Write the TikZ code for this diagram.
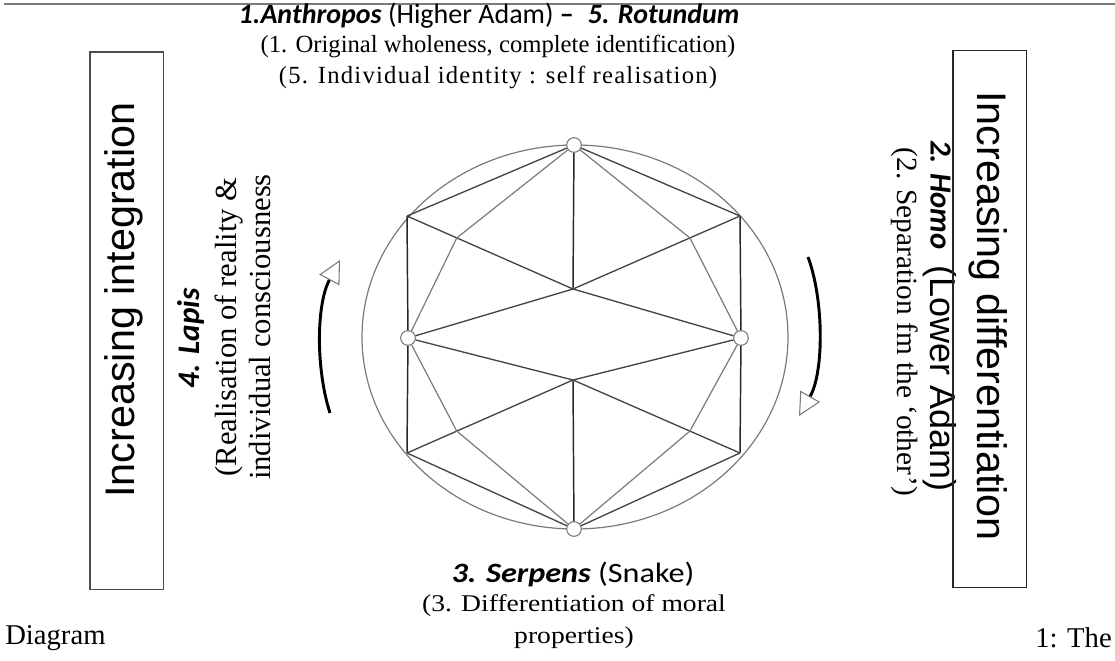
\documentclass[tikz,border=0pt]{standalone}
\usepackage{fontspec}
\setmainfont{Liberation Serif}
\setsansfont{Liberation Sans}
\newfontfamily\calibri{Carlito}
\newfontfamily\calibriwide[FakeStretch=1.15]{Carlito}
\newfontfamily\serifwide[FakeStretch=1.15]{Liberation Serif}
\newfontfamily\spacedserif[LetterSpace=5]{Liberation Serif}
\usetikzlibrary{arrows.meta,positioning,calc}
\definecolor{edgegrey}{HTML}{444444}
\definecolor{hidegrey}{HTML}{7A7A7A}
\tikzset{
  stage/.style    = {circle, draw=hidegrey, fill=white, line width=0.8pt, minimum size=11pt, inner sep=0pt},
  spine/.style    = {draw=black!85, line width=1.1pt},
  edge/.style     = {draw=edgegrey, line width=1pt},
  hidden/.style   = {draw=hidegrey, line width=0.9pt},
  sidebox/.style  = {rectangle, draw=black!70, line width=1pt, minimum width=55pt, minimum height=403pt, inner sep=0pt},
  sidelab/.style  = {font=\sffamily\fontsize{31}{36}\selectfont, inner sep=0pt},
  stagelab/.style = {font=\calibri\fontsize{21}{25}\selectfont, inner sep=0pt},
  gloss/.style    = {font=\fontsize{18.5}{24}\selectfont, inner sep=0pt, align=center},
  captlab/.style  = {font=\fontsize{21.5}{26}\selectfont, inner sep=0pt},
  flow/.style     = {line width=2.2pt, -{Triangle[length=17pt, width=17pt, fill=white, color=hidegrey, line width=0.8pt]}},
}

\begin{document}
\begin{tikzpicture}[x=0.75pt, y=-0.75pt]
  \useasboundingbox (0,0) rectangle (1115,661);

  % rule along the top of the page
  \draw[hidegrey, line width=2.2pt] (4,4) -- (1115,4);

  % the rotundum
  \draw[hidden] (575,337) ellipse [x radius=159.75pt, y radius=144pt];

  \node[stage] (anth)  at (574,145) {};
  \node[stage] (homo)  at (741,338) {};
  \node[stage] (serp)  at (574,529) {};
  \node[stage] (lapis) at (408,338) {};

  \coordinate (ul) at (407,216);
  \coordinate (ur) at (740,216);
  \coordinate (ll) at (407,453);
  \coordinate (lr) at (740,453);
  \coordinate (cu) at (573,289);
  \coordinate (cd) at (573,380);
  \coordinate (p1) at ($(ul)!0.3!(cu)$);
  \coordinate (p2) at ($(ur)!0.3!(cu)$);
  \coordinate (p3) at ($(ll)!0.3!(cd)$);
  \coordinate (p4) at ($(lr)!0.3!(cd)$);

  \draw[spine] (anth) -- (cu);
  \draw[spine] (cd) -- (serp);
  \draw[spine] (ul) -- (lapis) -- (ll);
  \draw[spine] (ur) -- (homo) -- (lr);
  \draw[edge] (ul) -- (anth) -- (ur);
  \draw[edge] (ll) -- (serp) -- (lr);
  \draw[edge] (ul) -- (cu) -- (ur);
  \draw[edge] (lapis) -- (cu) -- (homo);
  \draw[edge] (lapis) -- (cd) -- (homo);
  \draw[edge] (ll) -- (cd) -- (lr);
  \draw[hidden] (anth) -- (p1) -- (lapis) -- (p3) -- (serp) -- (p4) -- (homo) -- (p2) -- (anth);

  % direction of the process
  \coordinate (intfrom) at (330,413);
  \coordinate (intto)   at (340,260);
  \draw[flow] (intfrom) .. controls (316,370) and (316,305) .. (intto);
  \coordinate (diffrom) at (808,257);
  \coordinate (difto)   at (799,416);
  \draw[flow] (diffrom) .. controls (824,300) and (824,372) .. (difto);

  \node[stagelab] (anthname) at (489,16)
    {\textbf{\textit{1.Anthropos}} (Higher Adam) \textbf{–\enspace\textit{5. Rotundum}}};
  \node[gloss] (anthgloss1) at (498,46) {(1. Original wholeness, complete identification)};
  \node[gloss, font=\spacedserif\fontsize{18.5}{24}\selectfont] (anthgloss2) at (498,77)
    {(5. Individual identity : self realisation)};

  \node[stagelab, font=\calibriwide\fontsize{21}{25}\selectfont] (serpname) at (573,574)
    {\textbf{\textit{3. Serpens}} (Snake)};
  \node[gloss, font=\serifwide\fontsize{18}{24}\selectfont] (serpgloss) at (574,622)
    {(3. Differentiation of moral\\properties)};

  \node[stagelab, rotate=90, font=\calibri\fontsize{23.5}{27}\selectfont] (lapisname) at (191,338)
    {\textbf{\textit{4. Lapis}}};
  \node[gloss, rotate=90, font=\fontsize{23}{25}\selectfont] (lapisgloss) at (243,327)
    {(Realisation of reality \&\\individual consciousness};

  \node[stagelab, rotate=-90, font=\calibri\fontsize{23}{27}\selectfont] (homoname) at (940,316)
    {\textbf{\textit{2. Homo}}\hspace{12pt}{\sffamily\fontsize{27}{30}\selectfont (Lower Adam)}};
  \node[gloss, rotate=-90, font=\fontsize{22}{25}\selectfont] (homogloss) at (905,322)
    {(2. Separation fm the `other')};

  \node[sidebox] (intbox) at (126.5,320.5) {};
  \node[sidelab, rotate=90] (intlab) at (124,300) {Increasing integration};
  \node[sidebox, draw=black!85] (difbox) at (989.5,319) {};
  \node[sidelab, rotate=-90] (diflab) at (988,316) {Increasing differentiation};

  \node[captlab, anchor=west] (capl) at (5,638) {Diagram};
  \node[captlab, anchor=east] (capr) at (1112,638) {1: The};

\end{tikzpicture}
\end{document}
